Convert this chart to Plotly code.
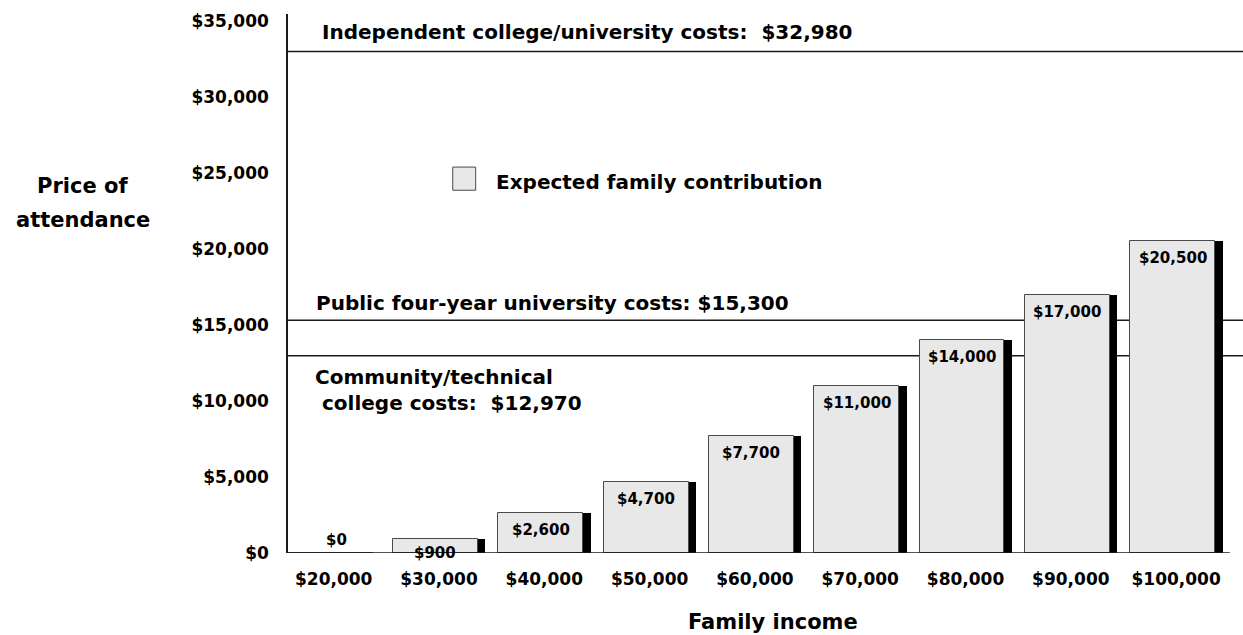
import plotly.graph_objects as go

# Expected family contribution by family income
incomes = ["$20,000", "$30,000", "$40,000", "$50,000", "$60,000",
           "$70,000", "$80,000", "$90,000", "$100,000"]
contribution = [0, 900, 2600, 4700, 7700, 11000, 14000, 17000, 20500]
contribution_labels = ["$0", "$900", "$2,600", "$4,700", "$7,700",
                       "$11,000", "$14,000", "$17,000", "$20,500"]

# Price of attendance by type of school
cost_values = [32980, 15300, 12970]
cost_labels = [
    "Independent college/university costs:\u00a0\u00a0$32,980",
    "Public four-year university costs: $15,300",
    "Community/technical<br>\u00a0college costs:\u00a0\u00a0$12,970",
]

y_ticks = [0, 5000, 10000, 15000, 20000, 25000, 30000, 35000]
y_tick_text = ["$0", "$5,000", "$10,000", "$15,000", "$20,000",
               "$25,000", "$30,000", "$35,000"]

FONT = "DejaVu Sans"
BAR_W = 0.807
x_idx = list(range(len(incomes)))


def bold(size):
    return dict(family=FONT, size=size, color="#000", weight="bold")


fig = go.Figure()

# black side band giving the bars a shadow on the right
fig.add_trace(go.Bar(
    x=x_idx, y=contribution, width=BAR_W, offset=-0.366,
    marker=dict(color="#000000", line=dict(width=0)),
    showlegend=False, hoverinfo="skip",
))
# light grey bar face
fig.add_trace(go.Bar(
    x=x_idx, y=contribution, width=BAR_W, offset=-0.437,
    marker=dict(color="#e8e8e8", line=dict(color="#4a4a4a", width=1)),
    name="Expected family contribution", showlegend=False,
))

annotations = []
for i, (v, t) in enumerate(zip(contribution, contribution_labels)):
    if v == 0:
        annotations.append(dict(x=i + 0.03, y=v, text=t, showarrow=False,
                                xanchor="center", yanchor="bottom", yshift=2,
                                font=bold(15)))
    else:
        annotations.append(dict(x=i - 0.034, y=v, text=t, showarrow=False,
                                xanchor="center", yanchor="top",
                                yshift=-3 if v < 2000 else -6,
                                font=bold(15)))

shapes = []
# cost reference lines, drawn behind the bars
for v in cost_values:
    shapes.append(dict(type="line", xref="paper", yref="y", x0=0, x1=1,
                       y0=v, y1=v, layer="below",
                       line=dict(color="#1a1a1a", width=1.5)))

# cost labels
annotations.append(dict(xref="paper", yref="y", x=0.033, y=cost_values[0],
                        text=cost_labels[0], showarrow=False, xanchor="left",
                        yanchor="bottom", yshift=6, font=bold(20)))
annotations.append(dict(xref="paper", yref="y", x=0.027, y=cost_values[1],
                        text=cost_labels[1], showarrow=False, xanchor="left",
                        yanchor="bottom", yshift=3, font=bold(20)))
annotations.append(dict(xref="paper", yref="y", x=0.026, y=cost_values[2],
                        text=cost_labels[2], showarrow=False, xanchor="left",
                        yanchor="top", yshift=-7, align="left", font=bold(20)))

# legend swatch and text
shapes.append(dict(type="rect", xref="paper", yref="paper",
                   x0=0.1725, x1=0.1965, y0=0.673, y1=0.716,
                   fillcolor="#e8e8e8", line=dict(color="#4a4a4a", width=1)))
annotations.append(dict(xref="paper", yref="paper", x=0.216, y=0.689,
                        text="Expected family contribution", showarrow=False,
                        xanchor="left", yanchor="middle", font=bold(20)))

# axis titles
annotations.append(dict(xref="paper", yref="paper", x=-0.2147, y=0.680,
                        text="Price of", showarrow=False,
                        xanchor="center", yanchor="middle", font=bold(21)))
annotations.append(dict(xref="paper", yref="paper", x=-0.2147, y=0.618,
                        text="attendance", showarrow=False,
                        xanchor="center", yanchor="middle", font=bold(21)))
annotations.append(dict(xref="paper", yref="paper", x=0.5075, y=-0.128,
                        text="Family income", showarrow=False,
                        xanchor="center", yanchor="middle", font=bold(21)))

# baseline
shapes.append(dict(type="line", xref="x", yref="y", x0=-0.434, x1=8.51,
                   y0=0, y1=0, line=dict(color="#1a1a1a", width=1.5)))

fig.update_layout(
    width=1243, height=635,
    margin=dict(l=288, r=0, t=14, b=82),
    paper_bgcolor="white", plot_bgcolor="white",
    barmode="overlay", bargap=0,
    shapes=shapes, annotations=annotations,
    xaxis=dict(range=[-0.434, 8.635], tickmode="array", tickvals=x_idx,
               ticktext=incomes, showgrid=False, zeroline=False, showline=False,
               ticks="", ticklabelstandoff=14, tickfont=bold(17)),
    yaxis=dict(range=[0, 35450], tickmode="array", tickvals=y_ticks,
               ticktext=y_tick_text, showgrid=False, zeroline=False,
               showline=True, linecolor="#1a1a1a", linewidth=1.5,
               ticks="", ticklabelstandoff=14, tickfont=bold(17)),
    showlegend=False,
)

fig.write_html("out.html")
